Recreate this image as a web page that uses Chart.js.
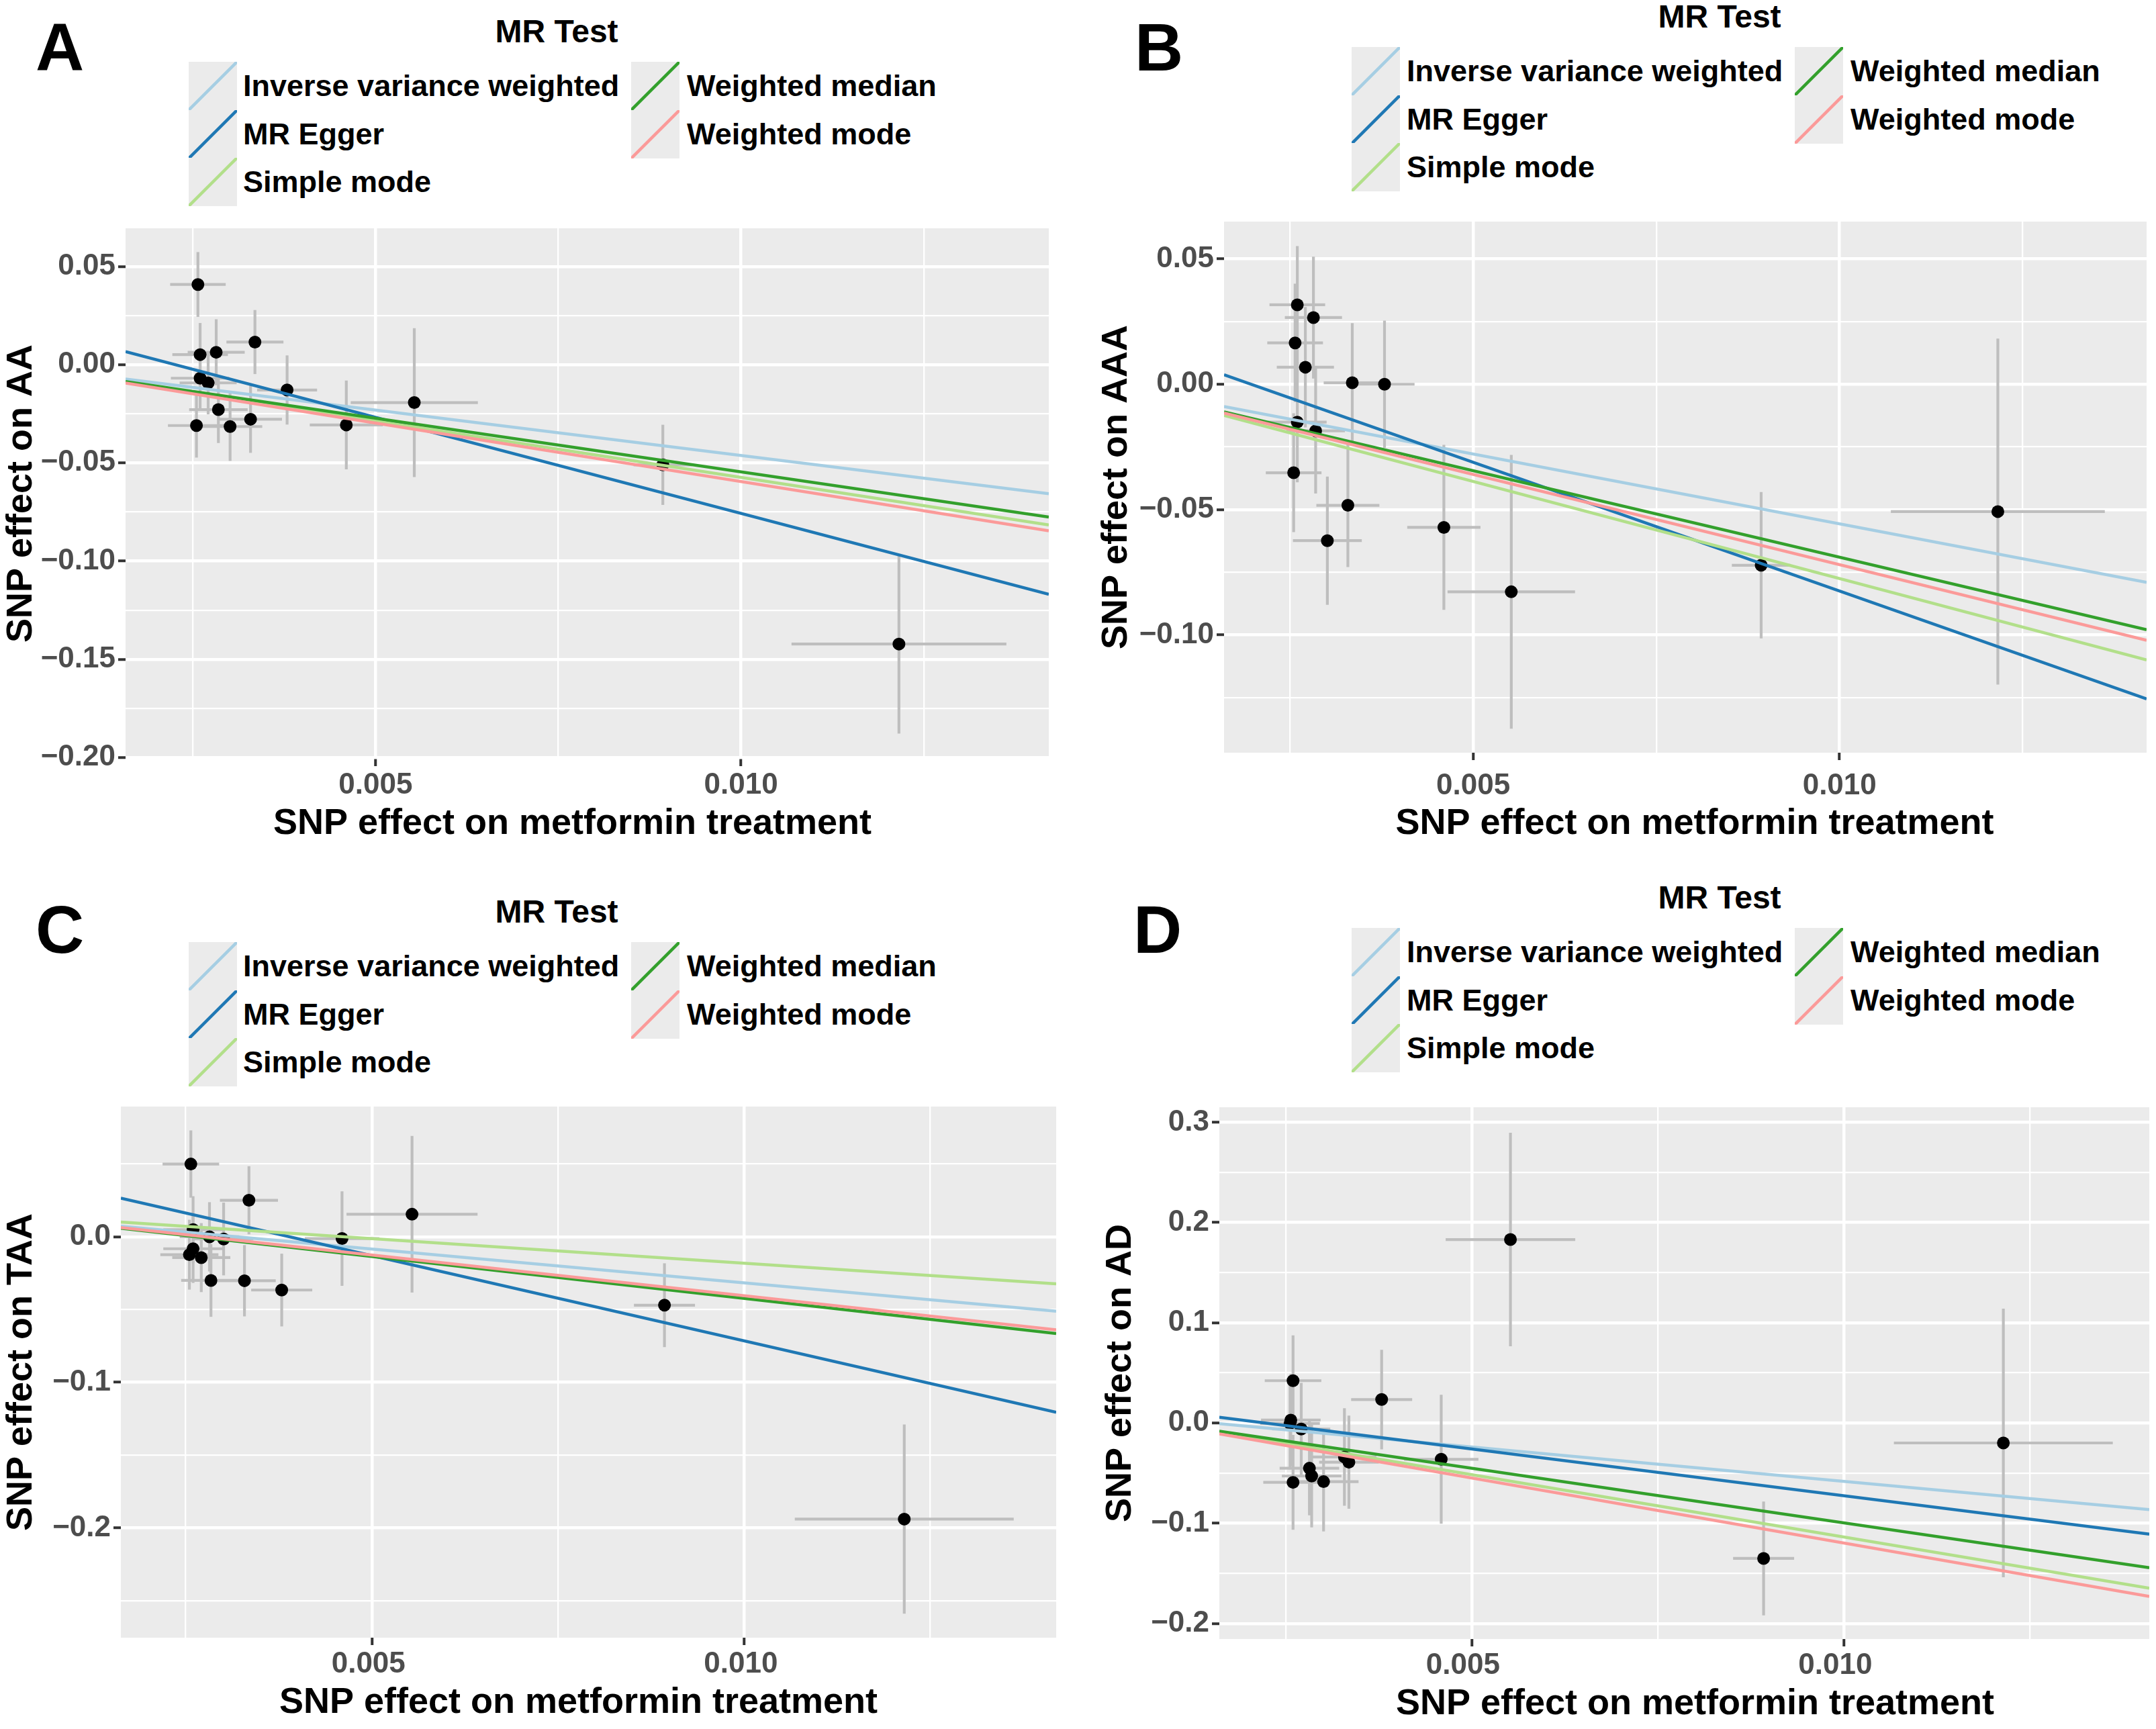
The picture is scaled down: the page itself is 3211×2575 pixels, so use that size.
<!DOCTYPE html>
<html><head><meta charset="utf-8">
<script src="https://cdn.jsdelivr.net/npm/chart.js@4/dist/chart.umd.min.js"></script>
<style>
html,body{margin:0;padding:0;background:#fff;}
body{width:3211px;height:2575px;position:relative;overflow:hidden;font-family:"Liberation Sans",Arial,Helvetica,sans-serif;}
.abs{position:absolute;}
.letter{font-weight:bold;font-size:100px;line-height:100px;color:#000;white-space:nowrap;}
.ltitle{font-weight:bold;font-size:48px;line-height:60px;height:60px;width:400px;color:#000;text-align:center;white-space:nowrap;}
.ltext{font-weight:bold;font-size:45px;line-height:72px;height:72px;color:#000;white-space:nowrap;}
</style></head><body>
<script>
// ---------------- DATA ----------------
const methods = ['Inverse variance weighted','MR Egger','Simple mode','Weighted median','Weighted mode'];
const methodColors = ['#A6CEE3','#1F78B4','#B2DF8A','#33A02C','#FB9A99'];
const xTickMajor = [0.005, 0.010];
const xTickLabels = ['0.005','0.010'];
const xTickMinor = [0.0025, 0.0075, 0.0125];
const xTitle = 'SNP effect on metformin treatment';

// Panel A (AA)
const xA  = [0.00257,0.00260,0.00282,0.00260,0.00271,0.00335,0.00379,0.00285,0.00255,0.00301,0.00329,0.00460,0.00553,0.00893,0.01216];
const yA  = [0.0408,0.0051,0.0063,-0.0069,-0.0093,0.0115,-0.0129,-0.0229,-0.0310,-0.0315,-0.0278,-0.0307,-0.0193,-0.0510,-0.1422];
const sxA = [0.00038,0.00038,0.00039,0.00040,0.00039,0.00039,0.00041,0.00040,0.00039,0.00044,0.00043,0.00050,0.00087,0.00040,0.00147];
const syA = [0.0165,0.0161,0.0168,0.0160,0.0160,0.0163,0.0176,0.0170,0.0163,0.0175,0.0171,0.0226,0.0379,0.0204,0.0456];
const slopeA = [-4.62,-9.78,-5.74,-5.46,-5.95];
const interceptA = [0,0.0221,0,0,0];
const yMajorA = [0.05,0,-0.05,-0.10,-0.15,-0.20];
const yLabelsA = ['0.05','0.00','\u22120.05','\u22120.10','\u22120.15','\u22120.20'];
const yMinorA = [0.025,-0.025,-0.075,-0.125,-0.175];

// Panel B (AAA)
const xB  = [0.00260,0.00282,0.00257,0.00271,0.00335,0.00379,0.00260,0.00285,0.00255,0.00329,0.00301,0.00460,0.00552,0.00893,0.01216];
const yB  = [0.0317,0.0266,0.0165,0.0068,0.0006,0.0000,-0.0151,-0.0186,-0.0353,-0.0483,-0.0624,-0.0571,-0.0828,-0.0722,-0.0508];
const sxB = [0.00038,0.00039,0.00038,0.00039,0.00039,0.00041,0.00040,0.00040,0.00038,0.00043,0.00047,0.00050,0.00087,0.00040,0.00146];
const syB = [0.0234,0.0243,0.0236,0.0240,0.0238,0.0254,0.0240,0.0250,0.0237,0.0246,0.0256,0.0329,0.0546,0.0292,0.0690];
const slopeB = [-5.57,-10.27,-7.75,-6.90,-7.20];
const interceptB = [0,0.0202,0,0,0];
const yMajorB = [0.05,0,-0.05,-0.10];
const yLabelsB = ['0.05','0.00','\u22120.05','\u22120.10'];
const yMinorB = [0.025,-0.025,-0.075,-0.125];

// Panel C (TAA)
const xC  = [0.00257,0.00335,0.00260,0.00282,0.00301,0.00460,0.00554,0.00260,0.00255,0.00271,0.00284,0.00329,0.00379,0.00893,0.01215];
const yC  = [0.0500,0.0251,0.0049,0.0000,-0.0015,-0.0012,0.0155,-0.0082,-0.0123,-0.0143,-0.0300,-0.0302,-0.0366,-0.0470,-0.1940];
const sxC = [0.00038,0.00039,0.00040,0.00040,0.00040,0.00050,0.00088,0.00040,0.00039,0.00039,0.00040,0.00042,0.00041,0.00041,0.00147];
const syC = [0.0231,0.0234,0.0230,0.0238,0.0250,0.0325,0.0538,0.0235,0.0240,0.0237,0.0250,0.0245,0.0250,0.0288,0.0650];
const slopeC = [-4.65,-11.72,-3.38,-5.76,-5.60];
const interceptC = [0.0148,0.0457,0.0156,0.0153,0.0155];
const yMajorC = [0,-0.1,-0.2];
const yLabelsC = ['0.0','\u22120.1','\u22120.2'];
const yMinorC = [0.05,-0.05,-0.15,-0.25];

// Panel D (AD)
const xD  = [0.00552,0.00260,0.00379,0.00257,0.00256,0.00271,0.01214,0.00459,0.00329,0.00335,0.00282,0.00285,0.00260,0.00301,0.00892];
const yD  = [0.183,0.0422,0.0234,0.0029,-0.0004,-0.0060,-0.0199,-0.0362,-0.0339,-0.0391,-0.0451,-0.0529,-0.0592,-0.0585,-0.1351];
const sxD = [0.00087,0.00038,0.00041,0.00040,0.00040,0.00039,0.00147,0.00050,0.00043,0.00040,0.00040,0.00040,0.00040,0.00047,0.00041];
const syD = [0.1065,0.0453,0.0496,0.0460,0.0460,0.0460,0.1340,0.0643,0.0486,0.0465,0.0470,0.0513,0.0473,0.0496,0.0568];
const slopeD = [-6.87,-9.33,-12.45,-10.90,-12.98];
const interceptD = [0.0104,0.0207,0.0107,0.0094,0.0100];
const yMajorD = [0.3,0.2,0.1,0,-0.1,-0.2];
const yLabelsD = ['0.3','0.2','0.1','0.0','\u22120.1','\u22120.2'];
const yMinorD = [0.25,0.15,0.05,-0.05,-0.15];

// ---------------- LAYOUT ----------------
const FONT = '"Liberation Sans", Arial, Helvetica, sans-serif';
const panels = [
  {letter:'A', yTitle:'SNP effect on AA', x:xA, y:yA, sx:sxA, sy:syA, slope:slopeA, icpt:interceptA,
   yMaj:yMajorA, yLab:yLabelsA, yMinr:yMinorA, xr:[0.00158,0.01421], yr:[-0.2006,0.0694],
   box:{left:0, top:320, width:1600, height:937}, pad:{top:20,right:38}, yW:187, xH:127, xTickPad:2, xLabOff:0, xTitleDx:-22,
   lg:{letterLeft:53, letterTop:20, titleCX:829, titleCY:47, rowTop:92, key1:281, text1:362, key2:940, text2:1023}},
  {letter:'B', yTitle:'SNP effect on AAA', x:xB, y:yB, sx:sxB, sy:syB, slope:slopeB, icpt:interceptB,
   yMaj:yMajorB, yLab:yLabelsB, yMinr:yMinorB, xr:[0.0016,0.01419], yr:[-0.147,0.0649],
   box:{left:1631, top:310, width:1580, height:947}, pad:{top:20,right:14}, yW:192, xH:136, xTickPad:12, xLabOff:0, xTitleDx:14,
   lg:{letterLeft:1690, letterTop:20, titleCX:2561, titleCY:25, rowTop:70, key1:2013, text1:2095, key2:2673, text2:2756}},
  {letter:'C', yTitle:'SNP effect on TAA', x:xC, y:yC, sx:sxC, sy:syC, slope:slopeC, icpt:interceptC,
   yMaj:yMajorC, yLab:yLabelsC, yMinr:yMinorC, xr:[0.00163,0.01419], yr:[-0.2755,0.0895],
   box:{left:0, top:1628, width:1610, height:938}, pad:{top:20,right:37}, yW:180, xH:127, xTickPad:2, xLabOff:-5, xTitleDx:-15,
   lg:{letterLeft:53, letterTop:1334, titleCX:829, titleCY:1358, rowTop:1403, key1:281, text1:362, key2:940, text2:1023}},
  {letter:'D', yTitle:'SNP effect on AD', x:xD, y:yD, sx:sxD, sy:syD, slope:slopeD, icpt:interceptD,
   yMaj:yMajorD, yLab:yLabelsD, yMinr:yMinorD, xr:[0.00161,0.0141], yr:[-0.2155,0.315],
   box:{left:1637, top:1629, width:1574, height:939}, pad:{top:20,right:10}, yW:179, xH:127, xTickPad:2, xLabOff:-13, xTitleDx:16,
   lg:{letterLeft:1688, letterTop:1334, titleCX:2561, titleCY:1337, rowTop:1382, key1:2013, text1:2095, key2:2673, text2:2756}}
];

// ---------------- PLUGINS ----------------
const bgPlugin = {
  id:'panelbg',
  beforeDraw(chart){
    const {ctx, chartArea:a} = chart;
    ctx.save(); ctx.fillStyle = '#ebebeb';
    ctx.fillRect(a.left, a.top, a.right - a.left, a.bottom - a.top);
    ctx.restore();
  }
};
const errorBarPlugin = {
  id:'errbars',
  beforeDatasetsDraw(chart){
    const {ctx, chartArea:a, scales} = chart;
    const xs = scales.x, ys = scales.y;
    ctx.save();
    ctx.beginPath(); ctx.rect(a.left, a.top, a.right - a.left, a.bottom - a.top); ctx.clip();
    ctx.strokeStyle = '#bebebe'; ctx.lineWidth = 4.2; ctx.lineCap = 'butt';
    chart.data.datasets.forEach(ds => {
      if (!ds.errX) return;
      ds.data.forEach((p, i) => {
        const px = xs.getPixelForValue(p.x);
        ctx.beginPath();
        ctx.moveTo(px, ys.getPixelForValue(p.y - ds.errY[i]));
        ctx.lineTo(px, ys.getPixelForValue(p.y + ds.errY[i]));
        ctx.stroke();
      });
      ds.data.forEach((p, i) => {
        const py = ys.getPixelForValue(p.y);
        ctx.beginPath();
        ctx.moveTo(xs.getPixelForValue(p.x - ds.errX[i]), py);
        ctx.lineTo(xs.getPixelForValue(p.x + ds.errX[i]), py);
        ctx.stroke();
      });
    });
    ctx.restore();
  }
};
const xTitlePlugin = {
  id:'xtitle',
  afterDraw(chart, args, opts){
    const {ctx} = chart; const xs = chart.scales.x;
    ctx.save();
    ctx.font = 'bold 54px ' + FONT;
    ctx.fillStyle = '#000000'; ctx.textAlign = 'center'; ctx.textBaseline = 'middle';
    ctx.fillText(opts.text, (xs.left + xs.right) / 2 + opts.dx, xs.bottom - 32.4 + 3);
    ctx.restore();
  }
};

function mkTicks(maj, labs, minr){
  const t = maj.map((v,i)=>({value:v, lbl:labs[i], isMaj:true}))
    .concat(minr.map(v=>({value:v, lbl:'', isMaj:false})));
  t.sort((a,b)=>a.value-b.value);
  return t;
}
const gridOpts = {
  color:'#ffffff',
  lineWidth: c => (c.tick && c.tick.isMaj) ? 4.5 : 2.3,
  drawTicks:true, tickLength:11, tickWidth:4,
  tickColor: c => (c.tick && c.tick.isMaj) ? '#333333' : 'rgba(0,0,0,0)'
};

function addDiv(cls, text, left, top){
  const d = document.createElement('div');
  d.className = 'abs ' + cls; d.textContent = text;
  d.style.left = left + 'px'; d.style.top = top + 'px';
  document.body.appendChild(d); return d;
}
function addKey(color, left, top){
  const ns = 'http://www.w3.org/2000/svg';
  const s = document.createElementNS(ns, 'svg');
  s.setAttribute('width', 72); s.setAttribute('height', 72);
  s.style.position = 'absolute'; s.style.left = left + 'px'; s.style.top = top + 'px';
  const r = document.createElementNS(ns, 'rect');
  r.setAttribute('width', 72); r.setAttribute('height', 72); r.setAttribute('fill', '#ebebeb');
  const l = document.createElementNS(ns, 'line');
  l.setAttribute('x1', 0); l.setAttribute('y1', 72); l.setAttribute('x2', 72); l.setAttribute('y2', 0);
  l.setAttribute('stroke', color); l.setAttribute('stroke-width', 4.5);
  s.appendChild(r); s.appendChild(l);
  document.body.appendChild(s);
}
function addLegend(P){
  const L = P.lg;
  addDiv('letter', P.letter, L.letterLeft, L.letterTop);
  addDiv('ltitle', 'MR Test', L.titleCX - 200, L.titleCY - 30);
  const step = 71.7;
  const col1 = [0,1,2], col2 = [3,4];
  col1.forEach((k,r)=>{ addKey(methodColors[k], L.key1, L.rowTop + r*step); addDiv('ltext', methods[k], L.text1, L.rowTop + r*step); });
  col2.forEach((k,r)=>{ addKey(methodColors[k], L.key2, L.rowTop + r*step); addDiv('ltext', methods[k], L.text2, L.rowTop + r*step); });
}

function makePanel(P){
  const cv = document.createElement('canvas');
  cv.width = P.box.width; cv.height = P.box.height;
  cv.style.position = 'absolute';
  cv.style.left = P.box.left + 'px'; cv.style.top = P.box.top + 'px';
  cv.style.width = P.box.width + 'px'; cv.style.height = P.box.height + 'px';
  document.body.appendChild(cv);

  const [x0, x1] = P.xr;
  const lineSets = [4,3,2,1,0].map(k => ({
    label: methods[k],
    data: [{x:x0, y:P.icpt[k] + P.slope[k]*x0}, {x:x1, y:P.icpt[k] + P.slope[k]*x1}],
    showLine:true, borderColor:methodColors[k], backgroundColor:methodColors[k],
    borderWidth:4.5, pointRadius:0, pointHoverRadius:0, tension:0, fill:false, clip:0
  }));
  const pts = {
    label:'SNP',
    data: P.x.map((v,i)=>({x:v, y:P.y[i]})),
    showLine:false, pointRadius:9.5, pointHoverRadius:9.5,
    pointBackgroundColor:'#000000', pointBorderColor:'#000000', pointBorderWidth:0,
    errX: P.sx, errY: P.sy
  };
  const tickFont = {family:FONT, size:44, weight:'bold'};
  const titleFont = {family:FONT, size:54, weight:'bold'};
  new Chart(cv, {
    type:'scatter',
    data:{datasets: lineSets.concat([pts])},
    plugins:[bgPlugin, errorBarPlugin, xTitlePlugin],
    options:{
      responsive:false, animation:false, events:[],
      layout:{padding:{top:P.pad.top, right:P.pad.right, left:0, bottom:0}},
      plugins:{legend:{display:false}, tooltip:{enabled:false}, xtitle:{text:xTitle, dx:P.xTitleDx}},
      scales:{
        x:{type:'linear', position:'bottom', min:x0, max:x1,
           afterBuildTicks: s => { s.ticks = mkTicks(xTickMajor, xTickLabels, xTickMinor); },
           afterFit: s => { s.height = P.xH; s.paddingLeft = 0; s.paddingRight = 0; },
           ticks:{autoSkip:false, maxRotation:0, minRotation:0, padding:P.xTickPad, labelOffset:P.xLabOff,
                  color:'#4d4d4d', font:tickFont, callback:(v,i,t)=>t[i].lbl},
           grid:gridOpts, border:{display:false},
           title:{display:false}},
        y:{type:'linear', position:'left', min:P.yr[0], max:P.yr[1],
           afterBuildTicks: s => { s.ticks = mkTicks(P.yMaj, P.yLab, P.yMinr); },
           afterFit: s => { s.width = P.yW; s.paddingTop = 0; s.paddingBottom = 0; },
           ticks:{autoSkip:false, padding:4, color:'#4d4d4d', font:tickFont,
                  callback:(v,i,t)=>t[i].lbl},
           grid:gridOpts, border:{display:false},
           title:{display:true, text:P.yTitle, color:'#000000', font:titleFont, padding:0}}
      }
    }
  });
  addLegend(P);
}
panels.forEach(makePanel);
</script>
</body></html>
